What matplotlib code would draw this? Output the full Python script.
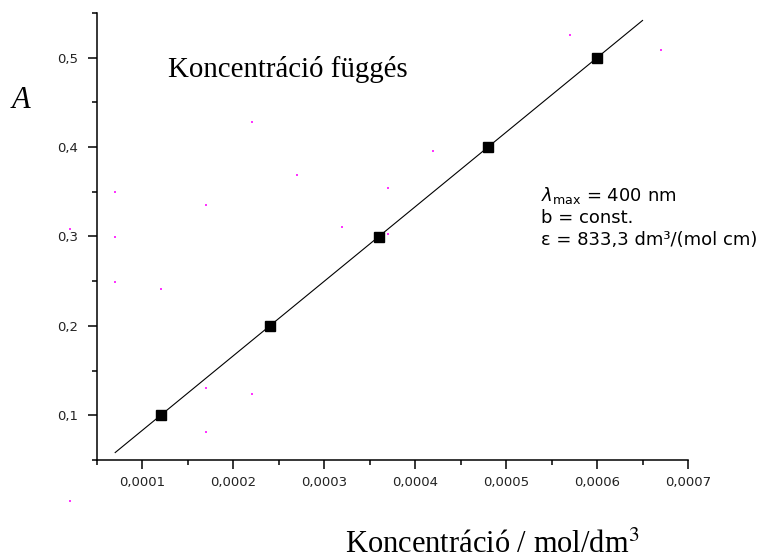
import numpy as np
import matplotlib
matplotlib.use('Agg')
import matplotlib.pyplot as plt
from matplotlib.ticker import MultipleLocator, FuncFormatter

# ---------------- data ----------------
conc = [0.00012, 0.00024, 0.00036, 0.00048, 0.0006]   # mol/dm3
absorb = [0.1, 0.2, 0.3, 0.4, 0.5]
fit_range = [0.00007, 0.00065]

# stray magenta pixels in the original
stray_x = [0.00007, 0.00007, 0.00007, 0.00012, 0.00017, 0.00022, 0.00027, 0.00032,
           0.00037, 0.00037, 0.00042, 0.00057, 0.00067, 0.00017, 0.00022, 0.00017,
           0.00002, 0.00002]
stray_y = [0.350, 0.300, 0.249, 0.241, 0.335, 0.428, 0.369, 0.311,
           0.354, 0.303, 0.396, 0.525, 0.509, 0.131, 0.124, 0.081,
           0.308, 0.004]

title = 'Koncentráció függés'
xlabel = 'Koncentráció / mol/dm$^3$'
ylabel = 'A'
notes = [r'$\lambda_{\mathrm{max}}$ = 400 nm', 'b = const.', 'ε = 833,3 dm³/(mol cm)']

W, H = 770, 560
fig = plt.figure(figsize=(W / 100, H / 100), dpi=100)
ax = fig.add_axes([97 / W, 1 - 460 / H, (688 - 97) / W, (460 - 13) / H])

# fit line
k, b0 = np.polyfit(conc, absorb, 1)
fx = np.array(fit_range)
ax.plot(fx, k * fx + b0, color='black', lw=0.8)
ax.plot(conc, absorb, 's', color='black', ms=6.5, mec='black')
ax.scatter(stray_x, stray_y, s=2, marker='s', color='#ff33ff', linewidths=0, clip_on=False)

ax.set_xlim(0.00005, 0.0007)
ax.set_ylim(0.05, 0.55)
ax.xaxis.set_major_locator(MultipleLocator(0.0001))
ax.xaxis.set_minor_locator(MultipleLocator(0.00005))
ax.yaxis.set_major_locator(MultipleLocator(0.1))
ax.yaxis.set_minor_locator(MultipleLocator(0.05))
ax.xaxis.set_major_formatter(FuncFormatter(lambda v, p: ('%.4f' % v).replace('.', ',')))
ax.yaxis.set_major_formatter(FuncFormatter(lambda v, p: ('%.1f' % v).replace('.', ',')))

for s in ['top', 'right']:
    ax.spines[s].set_visible(False)
for s in ['left', 'bottom']:
    ax.spines[s].set_linewidth(1.1)
ax.tick_params(which='major', direction='out', length=6.5, width=1.1, labelsize=9.5,
               labelcolor='#222222', pad=5)
ax.tick_params(which='minor', direction='out', length=3.6, width=1.1)
ax.tick_params(axis='y', which='major', pad=7)
for lab in ax.get_xticklabels() + ax.get_yticklabels():
    lab.set_family('DejaVu Sans')

fig.text(168 / W, 1 - 77 / H, title, family='Liberation Serif', fontsize=20.8, va='baseline')
fig.text(12 / W, 1 - 108 / H, ylabel, family='Liberation Serif', style='italic', fontsize=22, va='baseline')
fig.text(345 / W, 1 - 553 / H, xlabel, family='Liberation Serif', fontsize=22, va='baseline',
         math_fontfamily='stix')

for i, line in enumerate(notes):
    fig.text(541 / W, 1 - (201 + 22 * i) / H, line, family='DejaVu Sans', fontsize=13,
             va='baseline', math_fontfamily='dejavusans')

plt.savefig('out.png', dpi=100)
